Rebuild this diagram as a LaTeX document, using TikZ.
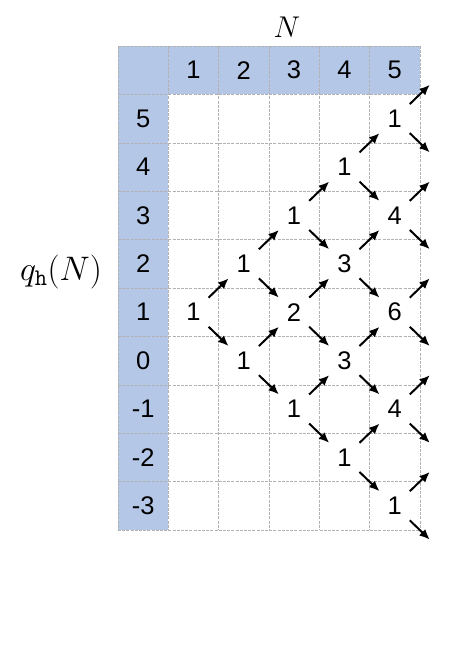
\RequirePackage{fix-cm}
\documentclass[tikz,border=0pt]{standalone}
\usepackage{fontspec}
\setmainfont{Liberation Sans}
\usetikzlibrary{arrows.meta}
\definecolor{hdrblue}{RGB}{180,199,231}
\tikzset{
  gridline/.style={draw=gray!60, line width=0.6pt, dash pattern=on 3pt off 1.2pt},
  cellnum/.style={font=\fontsize{25.5}{25.5}\selectfont, inner sep=0pt, text=black},
  stepar/.style={-{Latex[length=10.5pt,width=9pt]}, line width=2pt, shorten <=21pt, shorten >=21pt},
  axislabel/.style={font=\fontsize{30}{30}\selectfont, inner sep=0pt}
}
\begin{document}
\begin{tikzpicture}[x=1pt,y=-1pt]
\useasboundingbox (0,0) rectangle (474,670);
\def\cw{50.3}\def\ch{48.4}\def\ox{118}\def\oy{46}
% backgrounds
\fill[hdrblue] (\ox,\oy) rectangle (\ox+6*\cw,\oy+\ch);
\fill[hdrblue] (\ox,\oy) rectangle (\ox+\cw,\oy+10*\ch);
% grid
\foreach \k in {0,...,6} \draw[gridline] (\ox+\k*\cw,\oy) -- (\ox+\k*\cw,\oy+10*\ch);
\foreach \k in {0,...,10} \draw[gridline] (\ox,\oy+\k*\ch) -- (\ox+6*\cw,\oy+\k*\ch);
% cell centre coordinates
\foreach \c in {0,...,6}{
  \foreach \i in {0,...,10}{
    \coordinate (g-\c-\i) at (\ox+\c*\cw+0.5*\cw, \oy+\i*\ch+0.5*\ch);
  }
}
% header
\foreach \c in {1,...,5} \node[cellnum] (h-\c) at (g-\c-0) {\c};
\foreach \q [count=\i] in {5,4,3,2,1,0,-1,-2,-3} \node[cellnum] (r-\i) at (g-0-\i) {\q};
% axis labels
\node[axislabel] (nlab) at (287,27) {$N$};
\node[axislabel, font=\fontsize{34}{34}\selectfont] (qlab) at (61,272) {$q_{\mathtt{h}}(N)$};
% values
\foreach \c/\i/\v in {1/5/1, 2/4/1, 2/6/1, 3/3/1, 3/5/2, 3/7/1, 4/2/1, 4/4/3, 4/6/3, 4/8/1, 5/1/1, 5/3/4, 5/5/6, 5/7/4, 5/9/1}{
  \node[cellnum] (n-\c-\i) at (g-\c-\i) {\v};
  \pgfmathtruncatemacro\cn{\c+1}
  \pgfmathtruncatemacro\iu{\i-1}
  \pgfmathtruncatemacro\id{\i+1}
  \draw[stepar] (g-\c-\i) -- (g-\cn-\iu);
  \draw[stepar] (g-\c-\i) -- (g-\cn-\id);
}
\end{tikzpicture}
\end{document}
